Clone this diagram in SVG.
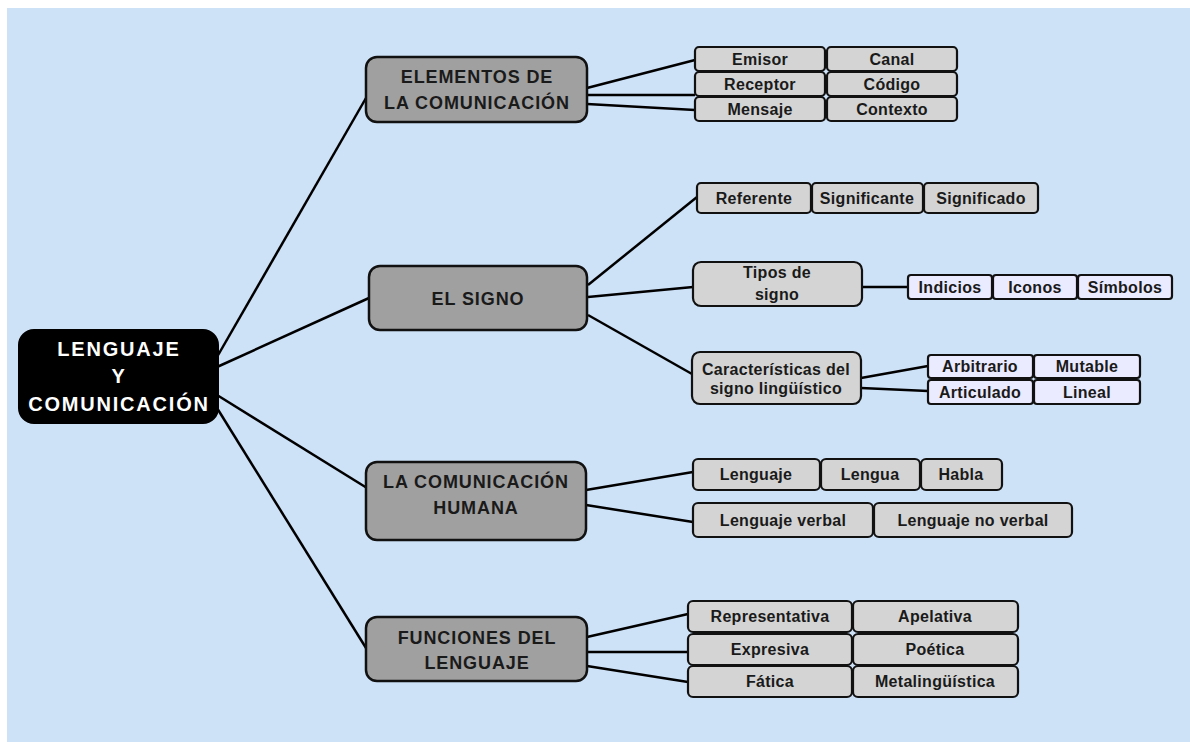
<svg xmlns="http://www.w3.org/2000/svg" width="1190" height="742" viewBox="0 0 1190 742">
<style>
.bg{fill:#cde1f7}
.root{fill:#000;stroke:#000;stroke-width:2}
.cat{fill:#a0a0a0;stroke:#111;stroke-width:2.5}
.leaf{fill:#d4d4d4;stroke:#111;stroke-width:2.2}
.lav{fill:#ebebff;stroke:#111;stroke-width:2.2}
.ln{stroke:#000;stroke-width:2.5;fill:none}
text{font-family:"Liberation Sans",Arial,sans-serif;font-weight:bold;text-anchor:middle}
.rt{fill:#fff;font-size:20px;letter-spacing:1.8px}
.ct{fill:#1a1a1a;font-size:18px;letter-spacing:0.9px}
.lt{fill:#1a1a1a;font-size:16px;letter-spacing:0.3px}
</style>
<rect class="bg" x="7" y="8" width="1183" height="734"/>
<g id="connectors">
<line class="ln" x1="217" y1="357" x2="366" y2="98"/>
<line class="ln" x1="217" y1="367" x2="369" y2="298"/>
<line class="ln" x1="217" y1="395" x2="367" y2="488"/>
<line class="ln" x1="217" y1="408" x2="366" y2="648"/>
<line class="ln" x1="587" y1="88" x2="695" y2="60"/>
<line class="ln" x1="587" y1="95" x2="695" y2="95"/>
<line class="ln" x1="587" y1="104" x2="695" y2="110"/>
<line class="ln" x1="588" y1="285" x2="697" y2="197"/>
<line class="ln" x1="588" y1="297" x2="693" y2="287"/>
<line class="ln" x1="588" y1="315" x2="692" y2="374"/>
<line class="ln" x1="862" y1="287" x2="908" y2="287"/>
<line class="ln" x1="861" y1="378" x2="928" y2="366"/>
<line class="ln" x1="861" y1="388" x2="928" y2="391"/>
<line class="ln" x1="586" y1="490" x2="693" y2="472"/>
<line class="ln" x1="586" y1="505" x2="693" y2="522"/>
<line class="ln" x1="587" y1="637" x2="688" y2="614"/>
<line class="ln" x1="587" y1="652" x2="688" y2="652"/>
<line class="ln" x1="587" y1="666" x2="688" y2="682"/>
</g>
<g id="root">
<rect class="root" x="19" y="330" width="199" height="93" rx="15"/>
<text class="rt" x="119" y="356">LENGUAJE</text>
<text class="rt" x="119" y="383">Y</text>
<text class="rt" x="119" y="411">COMUNICACIÓN</text>
</g>
<g id="elementos">
<rect class="cat" x="366" y="57" width="221" height="65" rx="11"/>
<text class="ct" x="477" y="83">ELEMENTOS DE</text>
<text class="ct" x="477" y="109">LA COMUNICACIÓN</text>
</g>
<g id="emisor"><rect class="leaf" x="695" y="47" width="130" height="24" rx="4"/><text class="lt" x="760" y="65">Emisor</text></g>
<g id="canal"><rect class="leaf" x="827" y="47" width="130" height="24" rx="4"/><text class="lt" x="892" y="65">Canal</text></g>
<g id="receptor"><rect class="leaf" x="695" y="72" width="130" height="24" rx="4"/><text class="lt" x="760" y="90">Receptor</text></g>
<g id="codigo"><rect class="leaf" x="827" y="72" width="130" height="24" rx="4"/><text class="lt" x="892" y="90">Código</text></g>
<g id="mensaje"><rect class="leaf" x="695" y="97" width="130" height="24" rx="4"/><text class="lt" x="760" y="115">Mensaje</text></g>
<g id="contexto"><rect class="leaf" x="827" y="97" width="130" height="24" rx="4"/><text class="lt" x="892" y="115">Contexto</text></g>
<g id="signo">
<rect class="cat" x="369" y="266" width="218" height="64" rx="11"/>
<text class="ct" x="478" y="305">EL SIGNO</text>
</g>
<g id="referente"><rect class="leaf" x="697" y="183" width="114" height="30" rx="4"/><text class="lt" x="754" y="204">Referente</text></g>
<g id="significante"><rect class="leaf" x="812" y="183" width="111" height="30" rx="4"/><text class="lt" x="867" y="204">Significante</text></g>
<g id="significado"><rect class="leaf" x="924" y="183" width="114" height="30" rx="4"/><text class="lt" x="981" y="204">Significado</text></g>
<g id="tipos">
<rect class="leaf" x="693" y="262" width="169" height="44" rx="8"/>
<text class="lt" x="777" y="278">Tipos de</text>
<text class="lt" x="777" y="300">signo</text>
</g>
<g id="indicios"><rect class="lav" x="908" y="275" width="84" height="24" rx="3"/><text class="lt" x="950" y="293">Indicios</text></g>
<g id="iconos"><rect class="lav" x="993" y="275" width="84" height="24" rx="3"/><text class="lt" x="1035" y="293">Iconos</text></g>
<g id="simbolos"><rect class="lav" x="1078" y="275" width="94" height="24" rx="3"/><text class="lt" x="1125" y="293">Símbolos</text></g>
<g id="caracteristicas">
<rect class="leaf" x="692" y="352" width="169" height="52" rx="8"/>
<text class="lt" x="776" y="375">Características del</text>
<text class="lt" x="776" y="394">signo lingüístico</text>
</g>
<g id="arbitrario"><rect class="lav" x="928" y="355" width="105" height="23" rx="3"/><text class="lt" x="980" y="372">Arbitrario</text></g>
<g id="mutable"><rect class="lav" x="1034" y="355" width="106" height="23" rx="3"/><text class="lt" x="1087" y="372">Mutable</text></g>
<g id="articulado"><rect class="lav" x="928" y="380" width="105" height="24" rx="3"/><text class="lt" x="980" y="398">Articulado</text></g>
<g id="lineal"><rect class="lav" x="1034" y="380" width="106" height="24" rx="3"/><text class="lt" x="1087" y="398">Lineal</text></g>
<g id="humana">
<rect class="cat" x="366" y="462" width="220" height="78" rx="11"/>
<text class="ct" x="476" y="488">LA COMUNICACIÓN</text>
<text class="ct" x="476" y="514">HUMANA</text>
</g>
<g id="lenguaje"><rect class="leaf" x="693" y="459" width="127" height="31" rx="5"/><text class="lt" x="756" y="480">Lenguaje</text></g>
<g id="lengua"><rect class="leaf" x="821" y="459" width="99" height="31" rx="5"/><text class="lt" x="870" y="480">Lengua</text></g>
<g id="habla"><rect class="leaf" x="921" y="459" width="81" height="31" rx="5"/><text class="lt" x="961" y="480">Habla</text></g>
<g id="lverbal"><rect class="leaf" x="693" y="503" width="180" height="34" rx="5"/><text class="lt" x="783" y="526">Lenguaje verbal</text></g>
<g id="lnoverbal"><rect class="leaf" x="874" y="503" width="198" height="34" rx="5"/><text class="lt" x="973" y="526">Lenguaje no verbal</text></g>
<g id="funciones">
<rect class="cat" x="366" y="617" width="221" height="64" rx="11"/>
<text class="ct" x="477" y="644">FUNCIONES DEL</text>
<text class="ct" x="477" y="669">LENGUAJE</text>
</g>
<g id="representativa"><rect class="leaf" x="688" y="601" width="164" height="31" rx="5"/><text class="lt" x="770" y="622">Representativa</text></g>
<g id="apelativa"><rect class="leaf" x="853" y="601" width="165" height="31" rx="5"/><text class="lt" x="935" y="622">Apelativa</text></g>
<g id="expresiva"><rect class="leaf" x="688" y="634" width="164" height="31" rx="5"/><text class="lt" x="770" y="655">Expresiva</text></g>
<g id="poetica"><rect class="leaf" x="853" y="634" width="165" height="31" rx="5"/><text class="lt" x="935" y="655">Poética</text></g>
<g id="fatica"><rect class="leaf" x="688" y="666" width="164" height="31" rx="5"/><text class="lt" x="770" y="687">Fática</text></g>
<g id="metalinguistica"><rect class="leaf" x="853" y="666" width="165" height="31" rx="5"/><text class="lt" x="935" y="687">Metalingüística</text></g>
</svg>
